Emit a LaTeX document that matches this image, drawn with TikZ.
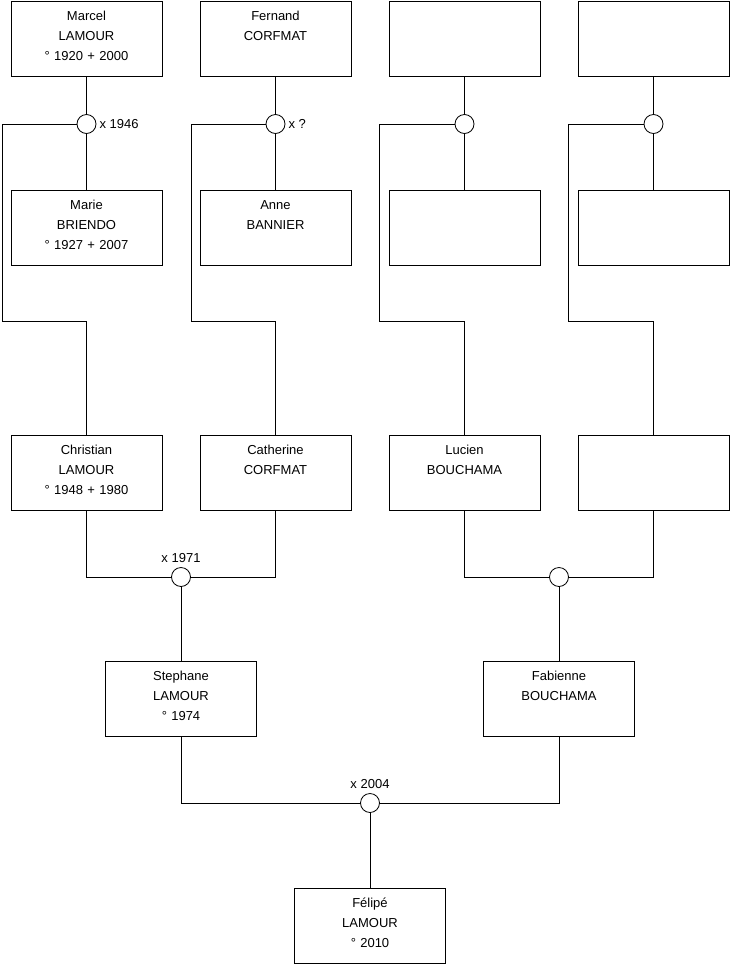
\documentclass[tikz,border=0pt]{standalone}
\usepackage{fontspec}
\setmainfont{Liberation Sans}
\begin{document}
\begin{tikzpicture}[x=1pt,y=-1pt,
  pers/.style={draw, line width=0.8pt, anchor=north, inner sep=0pt,
    text width=151pt, align=center, text height=19.5pt, text depth=55.5pt,
    font=\fontsize{13}{20}\selectfont},
  mar/.style={draw, circle, fill=white, line width=0.8pt, minimum size=19pt, inner sep=0pt},
  lnk/.style={line width=0.8pt},
  every label/.style={font=\fontsize{13}{16}\selectfont, inner sep=1pt}]
\useasboundingbox (0,0) rectangle (740,975);

% grandparents
\node[pers] (marcel) at (86.5,1) {Marcel\\LAMOUR\\° 1920 + 2000};
\node[pers] (fernand) at (275.5,1) {Fernand\\CORFMAT};
\node[pers] (gp3) at (464.5,1) {};
\node[pers] (gp4) at (653.5,1) {};

\node[pers] (marie) at (86.5,190) {Marie\\BRIENDO\\° 1927 + 2007};
\node[pers] (anne) at (275.5,190) {Anne\\BANNIER};
\node[pers] (gm3) at (464.5,190) {};
\node[pers] (gm4) at (653.5,190) {};

\node[mar, label={[label distance=2pt]right:x 1946}] (m1) at (86.5,124) {};
\node[mar, label={[label distance=2pt]right:x ?}] (m2) at (275.5,124) {};
\node[mar] (m3) at (464.5,124) {};
\node[mar] (m4) at (653.5,124) {};

% parents
\node[pers] (christian) at (86.5,435) {Christian\\LAMOUR\\° 1948 + 1980};
\node[pers] (catherine) at (275.5,435) {Catherine\\CORFMAT};
\node[pers] (lucien) at (464.5,435) {Lucien\\BOUCHAMA};
\node[pers] (p4) at (653.5,435) {};

\node[mar, label={[label distance=3pt]above:x 1971}] (m5) at (181,577) {};
\node[mar] (m6) at (559,577) {};

\node[pers] (stephane) at (181,661) {Stephane\\LAMOUR\\° 1974};
\node[pers] (fabienne) at (559,661) {Fabienne\\BOUCHAMA};

\node[mar, label={[label distance=3pt]above:x 2004}] (m7) at (370,803) {};

\node[pers] (felipe) at (370,888) {Félipé\\LAMOUR\\° 2010};

\coordinate (k1) at (2,321);
\coordinate (k2) at (191,321);
\coordinate (k3) at (379,321);
\coordinate (k4) at (568,321);

\draw[lnk] (marcel) -- (m1) -- (marie);
\draw[lnk] (fernand) -- (m2) -- (anne);
\draw[lnk] (gp3) -- (m3) -- (gm3);
\draw[lnk] (gp4) -- (m4) -- (gm4);

\draw[lnk] (m1.west) -| (k1) -| (christian.north);
\draw[lnk] (m2.west) -| (k2) -| (catherine.north);
\draw[lnk] (m3.west) -| (k3) -| (lucien.north);
\draw[lnk] (m4.west) -| (k4) -| (p4.north);

\draw[lnk] (christian.south) |- (m5.west);
\draw[lnk] (catherine.south) |- (m5.east);
\draw[lnk] (lucien.south) |- (m6.west);
\draw[lnk] (p4.south) |- (m6.east);
\draw[lnk] (m5) -- (stephane);
\draw[lnk] (m6) -- (fabienne);

\draw[lnk] (stephane.south) |- (m7.west);
\draw[lnk] (fabienne.south) |- (m7.east);
\draw[lnk] (m7) -- (felipe);
\end{tikzpicture}
\end{document}
